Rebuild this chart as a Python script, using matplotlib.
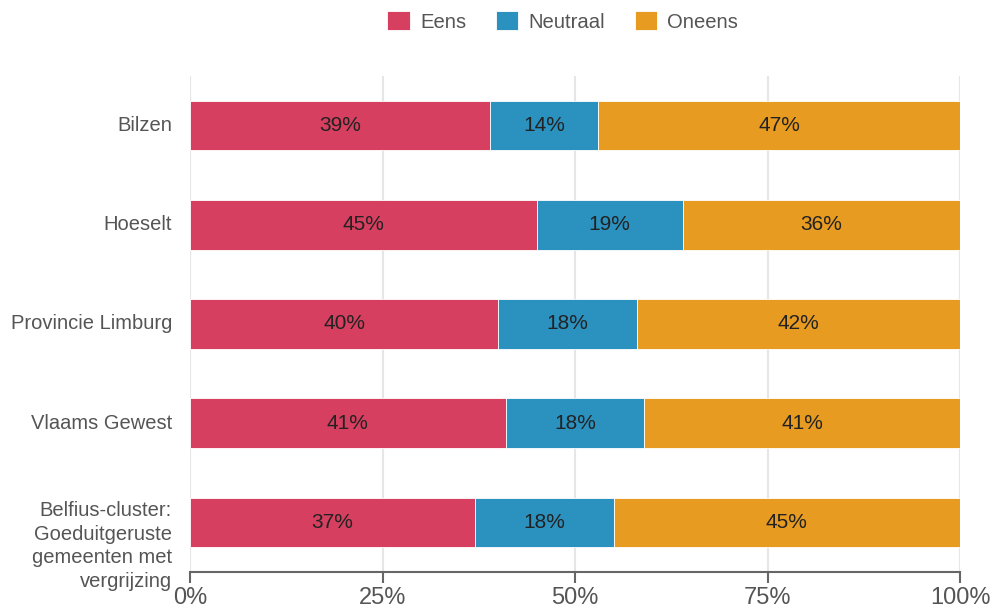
import matplotlib.pyplot as plt
import matplotlib.transforms as mtransforms
import numpy as np

plt.rcParams['font.family'] = ['Liberation Sans', 'DejaVu Sans']

regions = ['Bilzen', 'Hoeselt', 'Provincie Limburg', 'Vlaams Gewest',
           'Belfius-cluster:\nGoeduitgeruste\ngemeenten met\nvergrijzing']
eens = [39, 45, 40, 41, 37]
neutraal = [14, 19, 18, 18, 18]
oneens = [47, 36, 42, 41, 45]
series = ['Eens', 'Neutraal', 'Oneens']
colors = ['#D63F5F', '#2B91BE', '#E89B21']
ticks = [0, 25, 50, 75, 100]
tick_labels = ['0%', '25%', '50%', '75%', '100%']

fig = plt.figure(figsize=(9.96, 6.12), dpi=100)
ax = fig.add_axes([0.1908, 0.0654, 0.7731, 0.8104])

y = np.arange(len(regions))
left = np.zeros(len(regions))
for name, vals, col in zip(series, [eens, neutraal, oneens], colors):
    vals = np.array(vals, dtype=float)
    ax.barh(y, vals, left=left, height=0.5, color=col, label=name,
            zorder=3, edgecolor='white', linewidth=0.6)
    for yi, l, v in zip(y, left, vals):
        ax.text(l + v / 2, yi, f'{int(v)}%', ha='center', va='center',
                fontsize=15, color='#222222', zorder=4)
    left += vals

ax.set_xlim(0, 100)
ax.set_ylim(len(regions) - 0.5, -0.5)

# category labels drawn by hand so the long one can sit a bit lower
ax.set_yticks([])
lbl_tf = mtransforms.blended_transform_factory(ax.transAxes, ax.transData) + \
    mtransforms.ScaledTranslation(-18 / 100, 0, fig.dpi_scale_trans)
for yi, name in zip(y, regions):
    shift = 0.24 if '\n' in name else 0
    ax.text(0, yi + shift, name, transform=lbl_tf, ha='right', va='center',
            fontsize=14.5, color='#555555', linespacing=1.3)

ax.set_xticks(ticks)
ax.set_xticklabels(tick_labels, fontsize=17, color='#555555')
ax.tick_params(axis='x', length=8, width=1.5, color='#666666', direction='out', pad=3)

ax.grid(axis='x', color='#e6e6e6', linewidth=1.5, zorder=0)
for s in ['top', 'right', 'left']:
    ax.spines[s].set_visible(False)
ax.spines['bottom'].set_color('#666666')
ax.spines['bottom'].set_linewidth(1.5)

fig.legend(loc='upper center', bbox_to_anchor=(0.565, 1.012), ncol=3, frameon=False,
           fontsize=14.6, handlelength=1.1, handleheight=1.1, columnspacing=1.47,
           handletextpad=0.5, labelcolor='#555555')

fig.savefig('out.png', dpi=100)
